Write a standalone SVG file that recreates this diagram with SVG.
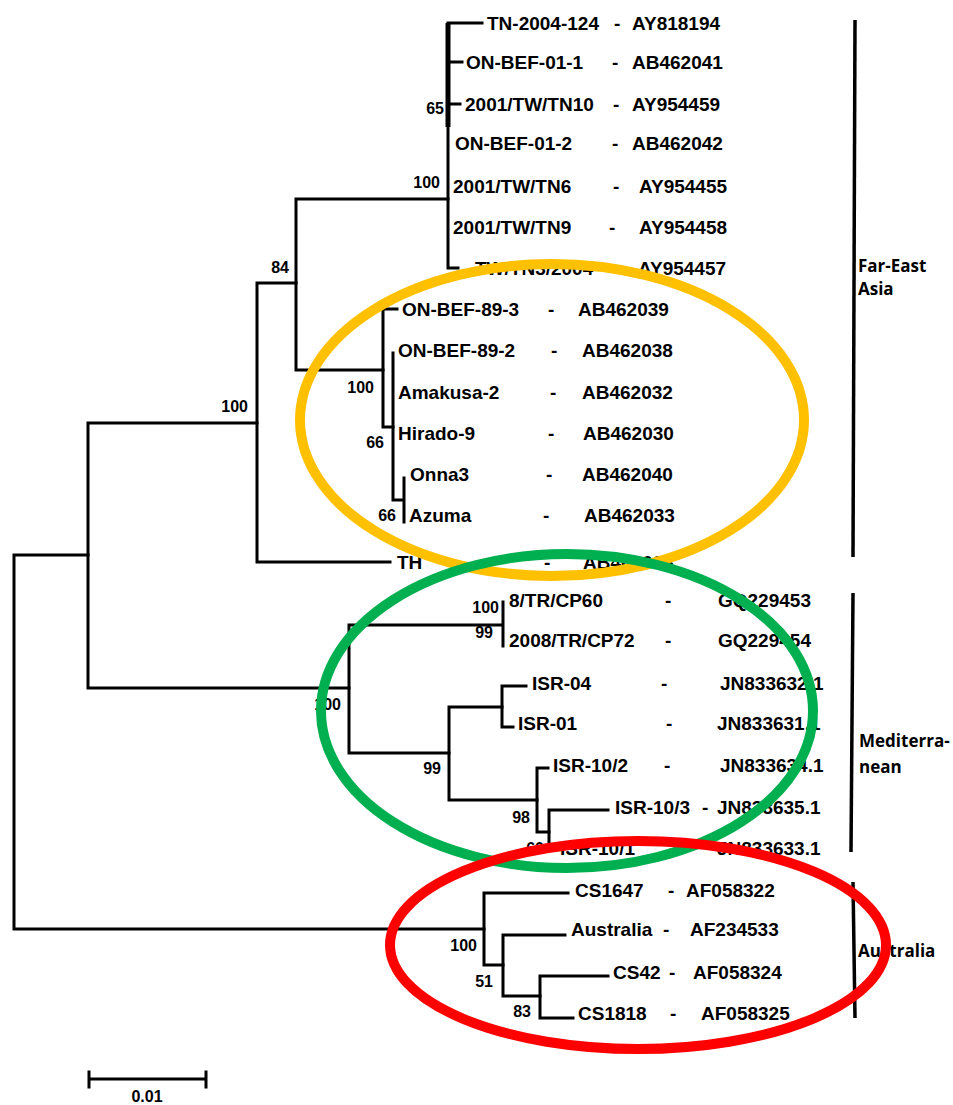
<svg xmlns="http://www.w3.org/2000/svg" width="953" height="1105" viewBox="0 0 953 1105">
<style>
.br{stroke:#000;stroke-width:3;fill:none;stroke-linecap:square}
.lf{font-family:"Liberation Sans",Arial,sans-serif;font-weight:bold;font-size:19px;fill:#000}
.bs{font-family:"Liberation Sans",Arial,sans-serif;font-weight:bold;font-size:16px;fill:#000}
.rg{font-family:"Open Sans","Noto Sans",sans-serif;font-weight:bold;font-size:17px;fill:#000}
.bar{stroke:#000;stroke-width:3.5;fill:none}
.ell{fill:none;stroke-width:10}
</style>
<rect width="953" height="1105" fill="#fff"/>
<g id="connectors">
<path class="br" d="M14,555V929M14,555H88M14,929H484"/>
<path class="br" d="M88,423V688M88,423H257M88,688H349"/>
<path class="br" d="M257,283V562M257,283H296M257,562H390"/>
<path class="br" d="M296,199V370M296,199H448M296,370H383"/>
<path class="br" d="M448,23V268M448,23H482M448,62H462M448,104H460M448,268H458"/>
<path d="M448,23V127" stroke="#000" stroke-width="5"/>
<path class="br" d="M383,309V427M383,309H397M383,427H393"/>
<path class="br" d="M393,353V500M393,500H404M404,478V522"/>
<path class="br" d="M349,625V753M349,625H503M349,753H449M503,602V646"/>
<path class="br" d="M449,707V800M449,707H502M449,800H537"/>
<path class="br" d="M502,686V727M502,686H526M502,727H513"/>
<path class="br" d="M537,768V832M537,768H548M537,832H549"/>
<path class="br" d="M549,810V848M549,810H608M549,848H555"/>
<path class="br" d="M484,893V965M484,893H568M484,965H503"/>
<path class="br" d="M503,935V996M503,935H565M503,996H540"/>
<path class="br" d="M540,976V1018M540,976H608M540,1018H573"/>
</g>
<g id="support">
<text class="bs" x="444" y="114" text-anchor="end">65</text>
<text class="bs" x="440" y="188" text-anchor="end">100</text>
<text class="bs" x="289" y="273" text-anchor="end">84</text>
<text class="bs" x="248" y="412" text-anchor="end">100</text>
<text class="bs" x="374" y="393" text-anchor="end">100</text>
<text class="bs" x="384" y="448" text-anchor="end">66</text>
<text class="bs" x="396" y="521" text-anchor="end">66</text>
<text class="bs" x="341" y="710" text-anchor="end">100</text>
<text class="bs" x="499" y="613" text-anchor="end">100</text>
<text class="bs" x="493" y="638" text-anchor="end">99</text>
<text class="bs" x="441" y="774" text-anchor="end">99</text>
<text class="bs" x="530" y="823" text-anchor="end">98</text>
<text class="bs" x="544" y="854" text-anchor="end">60</text>
<text class="bs" x="477" y="951" text-anchor="end">100</text>
<text class="bs" x="493" y="987" text-anchor="end">51</text>
<text class="bs" x="531" y="1017" text-anchor="end">83</text>
</g>
<g id="leaf-TN-2004-124" class="lf"><text x="487" y="30">TN-2004-124</text><text x="614" y="30">-</text><text x="632" y="30">AY818194</text></g>
<g id="leaf-ON-BEF-01-1" class="lf"><text x="466" y="69">ON-BEF-01-1</text><text x="612" y="69">-</text><text x="632" y="69">AB462041</text></g>
<g id="leaf-2001-TW-TN10" class="lf"><text x="465" y="111">2001/TW/TN10</text><text x="613" y="111">-</text><text x="632" y="111">AY954459</text></g>
<g id="leaf-ON-BEF-01-2" class="lf"><text x="455" y="150">ON-BEF-01-2</text><text x="612" y="150">-</text><text x="632" y="150">AB462042</text></g>
<g id="leaf-2001-TW-TN6" class="lf"><text x="453" y="193">2001/TW/TN6</text><text x="613" y="193">-</text><text x="639" y="193">AY954455</text></g>
<g id="leaf-2001-TW-TN9" class="lf"><text x="453" y="234">2001/TW/TN9</text><text x="609" y="234">-</text><text x="639" y="234">AY954458</text></g>
<g id="leaf-TW-TN3-2004" class="lf"><text x="475" y="275">TW/TN3/2004</text><text x="611" y="275">-</text><text x="638" y="275">AY954457</text></g>
<g id="leaf-ON-BEF-89-3" class="lf"><text x="402" y="316">ON-BEF-89-3</text><text x="548" y="316">-</text><text x="578" y="316">AB462039</text></g>
<g id="leaf-ON-BEF-89-2" class="lf"><text x="398" y="357">ON-BEF-89-2</text><text x="551" y="357">-</text><text x="582" y="357">AB462038</text></g>
<g id="leaf-Amakusa-2" class="lf"><text x="398" y="399">Amakusa-2</text><text x="550" y="399">-</text><text x="582" y="399">AB462032</text></g>
<g id="leaf-Hirado-9" class="lf"><text x="398" y="440">Hirado-9</text><text x="548" y="440">-</text><text x="583" y="440">AB462030</text></g>
<g id="leaf-Onna3" class="lf"><text x="410" y="481">Onna3</text><text x="546" y="481">-</text><text x="582" y="481">AB462040</text></g>
<g id="leaf-Azuma" class="lf"><text x="409" y="522">Azuma</text><text x="543" y="522">-</text><text x="584" y="522">AB462033</text></g>
<g id="leaf-TH" class="lf"><text x="397" y="569">TH</text><text x="544" y="569">-</text><text x="583" y="569">AB462028</text></g>
<g id="leaf-8-TR-CP60" class="lf"><text x="509" y="607">8/TR/CP60</text><text x="665" y="607">-</text><text x="718" y="607">GQ229453</text></g>
<g id="leaf-2008-TR-CP72" class="lf"><text x="509" y="647">2008/TR/CP72</text><text x="665" y="647">-</text><text x="718" y="647">GQ229454</text></g>
<g id="leaf-ISR-04" class="lf"><text x="532" y="690">ISR-04</text><text x="661" y="690">-</text><text x="720" y="690">JN833632.1</text></g>
<g id="leaf-ISR-01" class="lf"><text x="518" y="730">ISR-01</text><text x="666" y="730">-</text><text x="717" y="730">JN833631.1</text></g>
<g id="leaf-ISR-10-2" class="lf"><text x="553" y="772">ISR-10/2</text><text x="664" y="772">-</text><text x="720" y="772">JN833634.1</text></g>
<g id="leaf-ISR-10-3" class="lf"><text x="615" y="814">ISR-10/3</text><text x="702" y="814">-</text><text x="717" y="814">JN833635.1</text></g>
<g id="leaf-ISR-10-1" class="lf"><text x="560" y="855">ISR-10/1</text><text x="668" y="855">-</text><text x="717" y="855">JN833633.1</text></g>
<g id="leaf-CS1647" class="lf"><text x="575" y="897">CS1647</text><text x="668" y="897">-</text><text x="686" y="897">AF058322</text></g>
<g id="leaf-Australia" class="lf"><text x="571" y="936">Australia</text><text x="663" y="936">-</text><text x="690" y="936">AF234533</text></g>
<g id="leaf-CS42" class="lf"><text x="613" y="979">CS42</text><text x="669" y="979">-</text><text x="693" y="979">AF058324</text></g>
<g id="leaf-CS1818" class="lf"><text x="578" y="1020">CS1818</text><text x="670" y="1020">-</text><text x="701" y="1020">AF058325</text></g>
<g id="region-far-east">
<path class="bar" d="M855,20L853,557"/>
<text class="rg" x="858" y="272">Far-East</text>
<text class="rg" x="858" y="295">Asia</text>
</g>
<g id="region-mediterranean">
<path class="bar" d="M853,593L851,852"/>
<text class="rg" x="859" y="747">Mediterra-</text>
<text class="rg" x="859" y="773">nean</text>
</g>
<g id="region-australia">
<path class="bar" d="M853,882L855,1018"/>
<text class="rg" x="858" y="957">Australia</text>
</g>
<g id="scale-bar">
<path class="br" d="M89,1079H206M89,1072V1087M206,1072V1087"/>
<text class="bs" x="147" y="1102" text-anchor="middle">0.01</text>
</g>
<g id="highlights">
<ellipse class="ell" cx="552" cy="420" rx="252" ry="156" stroke="#FFC000"/>
<ellipse class="ell" cx="567" cy="711" rx="246" ry="157" stroke="#00B050"/>
<ellipse class="ell" cx="638" cy="945" rx="248" ry="104" stroke="#FF0000"/>
</g>
</svg>
